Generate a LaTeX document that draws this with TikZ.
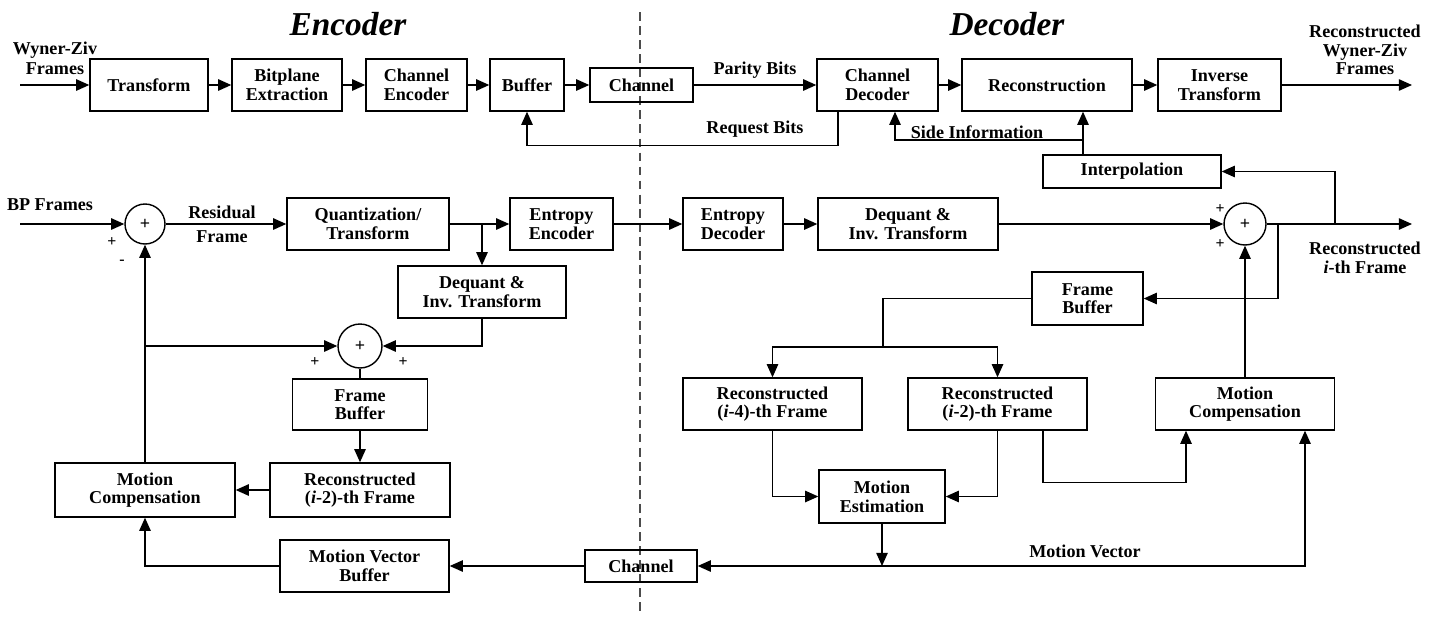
\documentclass[tikz,border=0pt]{standalone}
\usepackage{fontspec}
\setmainfont{Liberation Serif}
\usetikzlibrary{arrows.meta,calc}
\begin{document}
\begin{tikzpicture}[x=0.02cm,y=-0.02cm,
  line width=0.8pt,
  every node/.style={font=\fontsize{10.3}{10.6}\selectfont\bfseries},
  blk/.style={draw, inner sep=0pt, align=center},
  sumc/.style={draw, circle, inner sep=0pt},
  lbl/.style={align=center, inner sep=0pt},
  sgn/.style={inner sep=0pt, font=\fontsize{9}{9}\selectfont\bfseries},
  arr/.style={-{Triangle[length=7.5pt,width=6.5pt]}},
  arrb/.style={{Triangle[length=7.5pt,width=6.5pt]}-{Triangle[length=7.5pt,width=6.5pt]}},
  ttl/.style={font=\fontsize{19}{22}\selectfont\bfseries\itshape}]
\useasboundingbox (0,0) rectangle (1436,616);
% titles and divider
\node[ttl] (tenc) at (348,24) {Encoder};
\node[ttl] (tdec) at (1007,24) {Decoder};
\draw[dashed, dash pattern=on 5pt off 3pt, black!70, line width=0.6pt] (640,12) -- (640,616);
% top row
\node[blk, minimum width=2.36cm, minimum height=1.04cm] (trans) at (149,85) {Transform};
\node[blk, minimum width=2.2cm, minimum height=1.04cm] (bitp) at (287,85) {Bitplane\\Extraction};
\node[blk, minimum width=2.02cm, minimum height=1.04cm] (chenc) at (416.5,85) {Channel\\Encoder};
\node[blk, minimum width=1.48cm, minimum height=1.04cm] (buf) at (527,85) {Buffer};
\node[blk, minimum width=2.06cm, minimum height=0.68cm] (chan1) at (641.5,85) {Channel};
\node[blk, minimum width=2.42cm, minimum height=1.04cm] (chdec) at (877.5,85) {Channel\\Decoder};
\node[blk, minimum width=3.4cm, minimum height=1.04cm] (recon) at (1047,85) {Reconstruction};
\node[blk, minimum width=2.46cm, minimum height=1.04cm] (invt) at (1219.5,85) {Inverse\\Transform};
\node[blk, minimum width=3.56cm, minimum height=0.66cm] (interp) at (1132,171.5) {Interpolation};
% middle encoder
\node[sumc, minimum size=0.8cm] (s1) at (145,224) {+};
\node[blk, minimum width=3.24cm, minimum height=1.04cm] (quant) at (368,224) {Quantization/\\Transform};
\node[blk, minimum width=2.06cm, minimum height=1.04cm] (entenc) at (561.5,224) {Entropy\\Encoder};
\node[blk, minimum width=3.36cm, minimum height=1.04cm] (deq1) at (482,292) {Dequant \&\\Inv. Transform};
\node[sumc, minimum size=0.88cm] (s2) at (360,346) {+};
\node[blk, minimum width=2.7cm, minimum height=1.02cm] (fb1) at (360,404.5) {Frame\\Buffer};
\node[blk, minimum width=3.6cm, minimum height=1.08cm] (rec1) at (360,490) {Reconstructed\\(\textit{i}-2)-th Frame};
\node[blk, minimum width=3.6cm, minimum height=1.08cm] (mc1) at (145,490) {Motion\\Compensation};
\node[blk, minimum width=3.38cm, minimum height=1.04cm] (mvb) at (364.5,566) {Motion Vector\\Buffer};
\node[blk, minimum width=2.24cm, minimum height=0.64cm] (chan2) at (641,566) {Channel};
% middle decoder
\node[blk, minimum width=2.0cm, minimum height=1.04cm] (entdec) at (733,224) {Entropy\\Decoder};
\node[blk, minimum width=3.6cm, minimum height=1.04cm] (deq2) at (908,224) {Dequant \&\\Inv. Transform};
\node[sumc, minimum size=0.84cm] (s3) at (1245,224) {+};
\node[blk, minimum width=2.22cm, minimum height=1.06cm] (fb2) at (1087.5,298.5) {Frame\\Buffer};
\node[blk, minimum width=3.58cm, minimum height=1.04cm] (rec4) at (772.5,404) {Reconstructed\\(\textit{i}-4)-th Frame};
\node[blk, minimum width=3.58cm, minimum height=1.04cm] (rec2) at (997.5,404) {Reconstructed\\(\textit{i}-2)-th Frame};
\node[blk, minimum width=3.58cm, minimum height=1.04cm] (mc2) at (1245,404) {Motion\\Compensation};
\node[blk, minimum width=2.52cm, minimum height=1.06cm] (me) at (882,496.5) {Motion\\Estimation};
% free ends
\coordinate (wzin) at (20,85);
\coordinate (wzout) at (1412,85);
\coordinate (bpin) at (20,224);
\coordinate (iout) at (1412,224);
\coordinate (tap) at (1335,224);
\coordinate (tap2) at (1278,224);
\coordinate (si) at (1083,140);
\coordinate (fbsplit) at (883,347);
% labels
\node[lbl] (lwz) at (55,58) {Wyner-Ziv\\[1pt]Frames};
\node[lbl] (lrwz) at (1365,50) {Reconstructed\\Wyner-Ziv\\Frames};
\node[lbl] (lpb) at (755,70) {Parity Bits};
\node[lbl] (lrb) at (755,129) {Request Bits};
\node[lbl] (lsi) at (977,132) {Side Information};
\node[lbl] (lbp) at (50,205) {BP Frames};
\node[lbl] (lres) at (222,224) {Residual\\[3pt]Frame};
\node[lbl] (lri) at (1365,258) {Reconstructed\\\textit{i}-th Frame};
\node[lbl] (lmv) at (1085,551) {Motion Vector};
\node[sgn] (p1) at (112,242) {+};
\node[sgn] (m1) at (122,262) {-};
\node[sgn] (p2) at (315,362) {+};
\node[sgn] (p3) at (403,362) {+};
\node[sgn] (p4) at (1220,209) {+};
\node[sgn] (p5) at (1220,244) {+};
% top row connectors
\draw[arr] (wzin) -- (trans.west);
\draw[arr] (trans) -- (bitp);
\draw[arr] (bitp) -- (chenc);
\draw[arr] (chenc) -- (buf);
\draw[arr] (buf) -- (chan1);
\draw[arr] (chan1) -- (chdec);
\draw[arr] (chdec) -- (recon);
\draw[arr] (recon) -- (invt);
\draw[arr] (invt) -- (wzout);
\draw[arr] ([xshift=-0.79cm]chdec.south) -- ++(0,34) -| (buf.south);
\draw[arr] (interp.north -| si) -- (recon.south -| si);
\draw[arr] (si) -| ([xshift=0.35cm]chdec.south);
\draw[arr] (tap) |- (interp.east);
% encoder middle
\draw[arr] (bpin) -- (s1.west);
\draw[arr] (s1.east) -- (quant.west);
\draw[arr] (quant) -- (entenc);
\draw[arr] (quant.east -| deq1.north) -- (deq1.north);
\draw[arr] (entenc) -- (entdec);
\draw[arr] (deq1.south) |- (s2.east);
\draw[arr] (mc1.north |- s2.west) -- (s2.west);
\draw[arr] (mc1.north) -- (s1.south);
\draw (s2.south) -- (fb1.north);
\draw[arr] (fb1.south) -- (rec1.north);
\draw[arr] (rec1.west) -- (mc1.east);
\draw[arr] (mvb.west) -| (mc1.south);
\draw[arr] (chan2.west) -- (mvb.east);
% decoder middle
\draw[arr] (entdec) -- (deq2);
\draw[arr] (deq2.east) -- (s3.west);
\draw[arr] (s3.east) -- (iout);
\draw[arr] (tap2) |- (fb2.east);
\draw (fb2.west) -| (fbsplit);
\draw[arr] (fbsplit) -| (rec4.north);
\draw[arr] (fbsplit) -| (rec2.north);
\draw[arr] (mc2.north) -- (s3.south);
\draw[arr] (rec4.south) |- (me.west);
\draw[arr] (rec2.south) |- (me.east);
\draw[arr] ([xshift=0.91cm]rec2.south) -- ++(0,52) -| ([xshift=-1.18cm]mc2.south);
\draw[arr] (me.south) -- (me.south |- chan2.east);
\draw[arrb] (chan2.east) -| ([xshift=1.2cm]mc2.south);
\end{tikzpicture}
\end{document}
